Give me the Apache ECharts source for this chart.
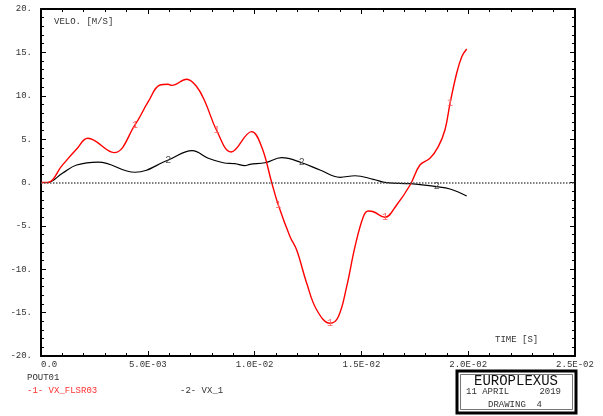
<!DOCTYPE html>
<html>
<head>
<meta charset="utf-8">
<script src="https://cdn.jsdelivr.net/npm/echarts@6/dist/echarts.min.js"></script>
<style>
  html, body { margin: 0; padding: 0; background: #fff; }
  #main { width: 603px; height: 416px; }
</style>
</head>
<body>
<div id="main"></div>
<script>
// -1- VX_FLSR03 (red)
var time1 = [0, 0.0003, 0.0010, 0.00167, 0.00219, 0.00342, 0.00440, 0.00502, 0.00557, 0.00595,
    0.00612, 0.00682, 0.00729, 0.00768, 0.00823, 0.00890, 0.00986, 0.01033, 0.01080, 0.01111,
    0.01166, 0.01197, 0.01244, 0.01291, 0.01353, 0.01392, 0.01431, 0.01470, 0.01509, 0.01532,
    0.01556, 0.01610, 0.01665, 0.01728, 0.01774, 0.01821, 0.01860, 0.01891, 0.01915, 0.01946,
    0.01970, 0.01993];
var vxFlsr03 = [0, 0, 2.0, 3.86, 5.10, 3.44, 6.63, 9.31, 11.24, 11.32,
    11.20, 11.90, 11.04, 9.31, 5.97, 3.52, 5.86, 4.13, 0.0, -2.59,
    -6.25, -7.78, -11.62, -14.70, -16.23, -15.47, -12.01, -7.40, -3.94, -3.29,
    -3.37, -4.01, -2.59, -0.29, 2.02, 2.79, 4.13, 6.05, 9.13, 12.59,
    14.50, 15.39];
var marks1 = [6, 14, 19, 24, 31, 38];

// -2- VX_1 (black)
var time2 = [0, 0.0003, 0.0010, 0.00167, 0.00268, 0.00440, 0.00596, 0.00708, 0.00783, 0.00853,
    0.00908, 0.00955, 0.00978, 0.01049, 0.01127, 0.01221, 0.01306, 0.01400, 0.01470, 0.01556,
    0.01618, 0.01728, 0.01853, 0.01915, 0.01993];
var vx1 = [0, 0, 1.06, 2.02, 2.36, 1.18, 2.59, 3.67, 2.79, 2.28,
    2.17, 1.94, 2.10, 2.28, 2.86, 2.28, 1.44, 0.60, 0.78, 0.37,
    -0.02, -0.14, -0.48, -0.75, -1.56];
var marks2 = [6, 15, 22];

var xTicks = ['0.0', '5.0E-03', '1.0E-02', '1.5E-02', '2.0E-02', '2.5E-02'];

var FONT = 'Liberation Mono';

function pairs(t, v) {
    return t.map(function (x, i) { return [x, v[i]]; });
}
function markPts(t, v, idx, txt, color) {
    return {
        symbol: 'circle',
        symbolSize: 1,
        itemStyle: { color: 'rgba(0,0,0,0)' },
        label: { show: true, position: 'inside', formatter: txt, color: color, fontFamily: FONT, fontSize: 10 },
        data: idx.map(function (i) { return { coord: [t[i], v[i]] }; })
    };
}

var axisCommon = {
    type: 'value',
    axisLine: { show: true, onZero: false, lineStyle: { color: '#000', width: 2 } },
    axisTick: { show: true, inside: true, length: 5, lineStyle: { color: '#000', width: 1 } },
    minorTick: { show: true, splitNumber: 5, length: 3, lineStyle: { color: '#000', width: 1 } },
    splitLine: { show: false }
};

var chart = echarts.init(document.getElementById('main'));
chart.setOption({
    animation: false,
    backgroundColor: '#fff',
    grid: { left: 41, right: 28, top: 9, bottom: 60 },
    xAxis: [
        Object.assign({}, axisCommon, {
            position: 'bottom', min: 0, max: 0.025, interval: 0.005,
            axisLabel: {
                margin: 4, color: '#333', fontFamily: FONT, fontSize: 9,
                formatter: function (v) {
                    var s = xTicks[Math.round(v / 0.005)];
                    return v === 0 ? '   ' + s : s;
                }
            }
        }),
        Object.assign({}, axisCommon, {
            position: 'top', min: 0, max: 0.025, interval: 0.005, axisLabel: { show: false }
        })
    ],
    yAxis: [
        Object.assign({}, axisCommon, {
            position: 'left', min: -20, max: 20, interval: 5,
            axisLabel: {
                margin: 9, color: '#333', fontFamily: FONT, fontSize: 9,
                formatter: function (v) { return v + '.'; }
            }
        }),
        Object.assign({}, axisCommon, {
            position: 'right', min: -20, max: 20, interval: 5, axisLabel: { show: false }
        })
    ],
    series: [
        {
            name: 'VX_1',
            type: 'line',
            data: pairs(time2, vx1),
            smooth: 0.4,
            showSymbol: false,
            lineStyle: { color: '#000', width: 1.2 },
            markPoint: markPts(time2, vx1, marks2, '2', '#555'),
            markLine: {
                silent: true,
                symbol: 'none',
                label: { show: false },
                lineStyle: { color: '#555', type: 'dotted', width: 1.5 },
                data: [{ yAxis: 0 }]
            }
        },
        {
            name: 'VX_FLSR03',
            type: 'line',
            data: pairs(time1, vxFlsr03),
            smooth: 0.4,
            showSymbol: false,
            lineStyle: { color: '#ff0000', width: 1.4 },
            markPoint: markPts(time1, vxFlsr03, marks1, '1', '#ff6060')
        }
    ],
    graphic: [
        { type: 'text', x: 54, y: 22, style: { text: 'VELO. [M/S]', font: '9px ' + FONT, fill: '#333', verticalAlign: 'middle', textVerticalAlign: 'middle' } },
        { type: 'text', x: 495, y: 340, style: { text: 'TIME [S]', font: '9px ' + FONT, fill: '#333', verticalAlign: 'middle', textVerticalAlign: 'middle' } },
        { type: 'text', x: 27, y: 378, style: { text: 'POUT01', font: '9px ' + FONT, fill: '#333', verticalAlign: 'middle', textVerticalAlign: 'middle' } },
        { type: 'text', x: 27, y: 391, style: { text: '-1- VX_FLSR03', font: '9px ' + FONT, fill: '#ff3030', verticalAlign: 'middle', textVerticalAlign: 'middle' } },
        { type: 'text', x: 180, y: 391, style: { text: '-2- VX_1', font: '9px ' + FONT, fill: '#333', verticalAlign: 'middle', textVerticalAlign: 'middle' } },
        { type: 'rect', shape: { x: 457, y: 371, width: 119, height: 42 }, style: { fill: '#fff', stroke: '#000', lineWidth: 3 } },
        { type: 'rect', shape: { x: 460.5, y: 374.5, width: 112, height: 35 }, style: { fill: 'none', stroke: '#777', lineWidth: 1 } },
        { type: 'text', x: 516, y: 381, style: { text: 'EUROPLEXUS', font: '14px ' + FONT, fill: '#111', align: 'center', textAlign: 'center', verticalAlign: 'middle', textVerticalAlign: 'middle' } },
        { type: 'text', x: 466, y: 392, style: { text: '11 APRIL', font: '9px ' + FONT, fill: '#333', verticalAlign: 'middle', textVerticalAlign: 'middle' } },
        { type: 'text', x: 561, y: 392, style: { text: '2019', font: '9px ' + FONT, fill: '#333', align: 'right', textAlign: 'right', verticalAlign: 'middle', textVerticalAlign: 'middle' } },
        { type: 'text', x: 488, y: 405, style: { text: 'DRAWING  4', font: '9px ' + FONT, fill: '#333', verticalAlign: 'middle', textVerticalAlign: 'middle' } }
    ]
});
</script>
</body>
</html>
